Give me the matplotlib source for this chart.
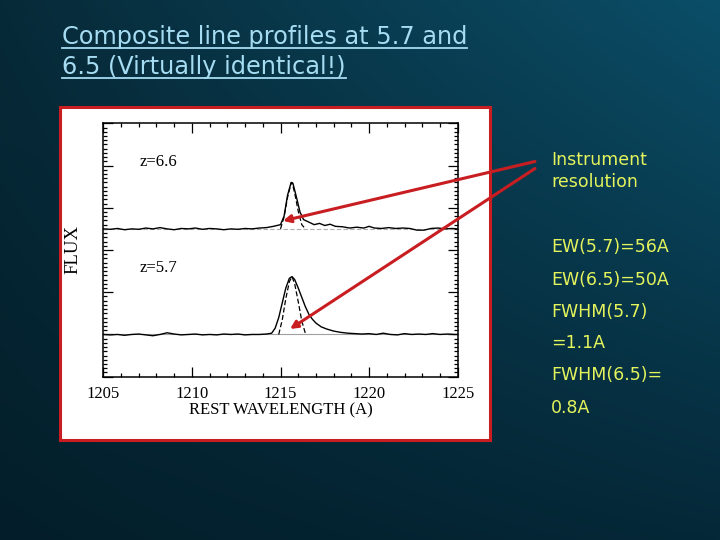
import numpy as np
import matplotlib
matplotlib.use('Agg')
import matplotlib.pyplot as plt
from matplotlib.lines import Line2D
from matplotlib.patches import Rectangle
from matplotlib.ticker import MultipleLocator

# ------------------------------------------------------------------ #
# Data                                              #
# ------------------------------------------------------------------ #

# z=6.6 composite (upper trace)
top_lam = [1205.0, 1205.4, 1205.8, 1206.2, 1206.6, 1207.0, 1207.4, 1207.8, 1208.2, 1208.6,
           1209.0, 1209.4, 1209.8, 1210.2, 1210.6, 1211.0, 1211.4, 1211.8, 1212.2, 1212.6,
           1213.0, 1213.4, 1213.8, 1214.2, 1214.6, 1215.0, 1215.2, 1215.4, 1215.6, 1215.7,
           1215.9, 1216.1, 1216.3, 1216.6, 1216.9, 1217.2, 1217.5, 1217.8, 1218.1, 1218.5,
           1218.9, 1219.3, 1219.7, 1220.0, 1220.3, 1220.7, 1221.1, 1221.5, 1221.9, 1222.3,
           1222.7, 1223.1, 1223.5, 1223.9, 1224.3, 1224.7, 1225.0]
top_flux = [3.50, 3.49, 3.51, 3.48, 3.50, 3.49, 3.52, 3.50, 3.53, 3.50,
            3.48, 3.51, 3.50, 3.52, 3.49, 3.51, 3.50, 3.48, 3.50, 3.49,
            3.51, 3.50, 3.52, 3.53, 3.56, 3.60, 3.80, 4.30, 4.60, 4.58,
            4.25, 3.90, 3.72, 3.66, 3.60, 3.63, 3.58, 3.61, 3.56, 3.55,
            3.52, 3.54, 3.52, 3.56, 3.52, 3.51, 3.53, 3.51, 3.52, 3.51,
            3.47, 3.47, 3.51, 3.52, 3.50, 3.51, 3.50]
top_inst_lam = [1215.0, 1215.2, 1215.4, 1215.6, 1215.65, 1215.8, 1216.0, 1216.2, 1216.4]
top_inst_flux = [3.50, 3.78, 4.25, 4.58, 4.60, 4.35, 3.92, 3.60, 3.50]
top_base = 3.5

# z=5.7 composite (lower trace)
bot_lam = [1205.0, 1205.4, 1205.8, 1206.2, 1206.6, 1207.0, 1207.4, 1207.8, 1208.2, 1208.6,
           1209.0, 1209.4, 1209.8, 1210.2, 1210.6, 1211.0, 1211.4, 1211.8, 1212.2, 1212.6,
           1213.0, 1213.4, 1213.8, 1214.2, 1214.5, 1214.7, 1214.9, 1215.1, 1215.3, 1215.5,
           1215.65, 1215.8, 1216.0, 1216.2, 1216.4, 1216.6, 1216.8, 1217.0, 1217.3, 1217.6,
           1218.0, 1218.4, 1218.8, 1219.2, 1219.6, 1220.0, 1220.4, 1220.8, 1221.2, 1221.6,
           1222.0, 1222.4, 1222.8, 1223.2, 1223.6, 1224.0, 1224.4, 1224.8, 1225.0]
bot_flux = [1.00, 0.99, 1.00, 0.98, 1.00, 1.01, 0.99, 0.97, 1.00, 1.04,
            1.01, 0.99, 1.00, 1.01, 0.99, 1.00, 0.99, 1.01, 1.00, 1.01,
            0.99, 1.00, 1.00, 1.01, 1.03, 1.15, 1.40, 1.75, 2.10, 2.33,
            2.37, 2.30, 2.10, 1.88, 1.66, 1.48, 1.36, 1.27, 1.18, 1.13,
            1.08, 1.05, 1.03, 1.02, 1.01, 1.02, 1.00, 1.03, 1.00, 0.99,
            1.02, 1.00, 1.01, 1.00, 1.02, 1.00, 1.01, 1.00, 1.00]
bot_inst_lam = [1214.9, 1215.1, 1215.3, 1215.5, 1215.65, 1215.8, 1216.0, 1216.2, 1216.4, 1216.45]
bot_inst_flux = [1.00, 1.35, 1.85, 2.25, 2.37, 2.20, 1.78, 1.32, 1.03, 1.00]
bot_base = 1.0

x_ticks = [1205, 1210, 1215, 1220, 1225]
z_labels = ['z=6.6', 'z=5.7']
z_label_pos = [(1207.05, 5.08), (1207.05, 2.57)]

# arrow tips (data coords) for "Instrument resolution"
arrow_tips = [(1215.14, 3.69), (1215.54, 1.13)]

title_lines = ['Composite line profiles at 5.7 and', '6.5 (Virtually identical!)']
side_notes = ['Instrument', 'resolution', 'EW(5.7)=56A', 'EW(6.5)=50A',
              'FWHM(5.7)', '=1.1A', 'FWHM(6.5)=', '0.8A']
side_baselines = [165, 187, 252, 285, 317, 348, 380, 413]  # px from top

TITLE_COLOR = '#a6dcf2'
NOTE_COLOR = '#e4f45c'
RED = '#c81e22'

W, H = 720, 540
fig = plt.figure(figsize=(W / 100, H / 100), dpi=100)

# ------------------------------------------------------------------ #
# Slide background gradient                                            #
# ------------------------------------------------------------------ #
bg = fig.add_axes([0, 0, 1, 1], zorder=-10)
bg.set_axis_off()
corners = np.array([[[0x07, 0x2a, 0x38], [0x0b, 0x4e, 0x68]],
                    [[0x03, 0x1e, 0x2a], [0x05, 0x28, 0x38]]]) / 255.0
u = np.linspace(0, 1, 200)[None, :, None]
v = np.linspace(0, 1, 150)[:, None, None]
top_row = corners[0, 0] * (1 - u) + corners[0, 1] * u
bot_row = corners[1, 0] * (1 - u) + corners[1, 1] * u
img = top_row * (1 - v) + bot_row * v
bg.imshow(img, aspect='auto', extent=[0, 1, 0, 1], interpolation='bilinear')
bg.set_xlim(0, 1)
bg.set_ylim(0, 1)

# white panel with red frame
fig.patches.append(Rectangle((60 / W, 1 - 440 / H), 430 / W, 333 / H,
                             transform=fig.transFigure, facecolor='white',
                             edgecolor=RED, linewidth=2.2, zorder=-5))

# ------------------------------------------------------------------ #
# Spectrum plot                                                        #
# ------------------------------------------------------------------ #
ax = fig.add_axes([103.3 / W, 1 - 376.7 / H, 354.4 / W, 253.4 / H], zorder=1)
ax.set_facecolor('white')

ax.axhline(top_base, color='#b0b0b0', lw=0.8, ls=(0, (4, 2)))
ax.axhline(bot_base, color='#a0a0a0', lw=0.8)
ax.plot(top_lam, top_flux, color='black', lw=1.0)
ax.plot(top_inst_lam, top_inst_flux, color='black', lw=0.9, ls=(0, (4, 2)))
ax.plot(bot_lam, bot_flux, color='black', lw=1.0)
ax.plot(bot_inst_lam, bot_inst_flux, color='black', lw=0.9, ls=(0, (4, 2)))

serif = ['Liberation Serif', 'DejaVu Serif']
for lab, (lx, ly) in zip(z_labels, z_label_pos):
    ax.text(lx, ly, lab, family=serif, fontsize=12, va='center', ha='left')

ax.set_xlim(1205, 1225)
ax.set_ylim(0, 6)
ax.set_xticks(x_ticks)
ax.xaxis.set_minor_locator(MultipleLocator(1))
ax.yaxis.set_major_locator(MultipleLocator(1))
ax.yaxis.set_minor_locator(MultipleLocator(0.1))
ax.tick_params(which='both', direction='in', top=True, right=True, width=0.9)
ax.tick_params(which='major', length=7)
ax.tick_params(which='minor', length=3)
ax.tick_params(axis='x', pad=7)
ax.set_yticklabels([])
for lbl in ax.get_xticklabels():
    lbl.set_family(serif)
    lbl.set_fontsize(12)
ax.set_xlabel('REST WAVELENGTH (A)', family=serif, fontsize=12, labelpad=0)
ax.set_ylabel('FLUX', family=serif, fontsize=13.5, labelpad=12)
for sp in ax.spines.values():
    sp.set_linewidth(1.1)

# ------------------------------------------------------------------ #
# Slide text and arrows                                                #
# ------------------------------------------------------------------ #
title_artists = []
for i, line in enumerate(title_lines):
    t = fig.text(62 / W, 1 - (44 + 30 * i) / H, line, color=TITLE_COLOR,
                 fontsize=17.3, family='DejaVu Sans', va='baseline', ha='left')
    title_artists.append(t)

for note, yb in zip(side_notes, side_baselines):
    fig.text(551 / W, 1 - yb / H, note, color=NOTE_COLOR, fontsize=12.5,
             family='DejaVu Sans', va='baseline', ha='left')

tails = [(535 / W, 1 - 161.5 / H), (535 / W, 1 - 168.5 / H)]
for tip, tail in zip(arrow_tips, tails):
    ax.annotate('', xy=tip, xycoords='data', xytext=tail, textcoords='figure fraction',
                arrowprops=dict(arrowstyle='-|>', color=RED, lw=2.2, mutation_scale=11,
                                shrinkA=0, shrinkB=0),
                annotation_clip=False, zorder=20)

# underline the title lines
fig.canvas.draw()
renderer = fig.canvas.get_renderer()
for t in title_artists:
    bb = t.get_window_extent(renderer)
    x0, y0 = bb.x0 / W, (bb.y0 + 1) / H
    fig.add_artist(Line2D([x0, bb.x1 / W], [y0, y0], transform=fig.transFigure,
                          color=TITLE_COLOR, lw=1.3))

fig.savefig('out.png', dpi=100)
